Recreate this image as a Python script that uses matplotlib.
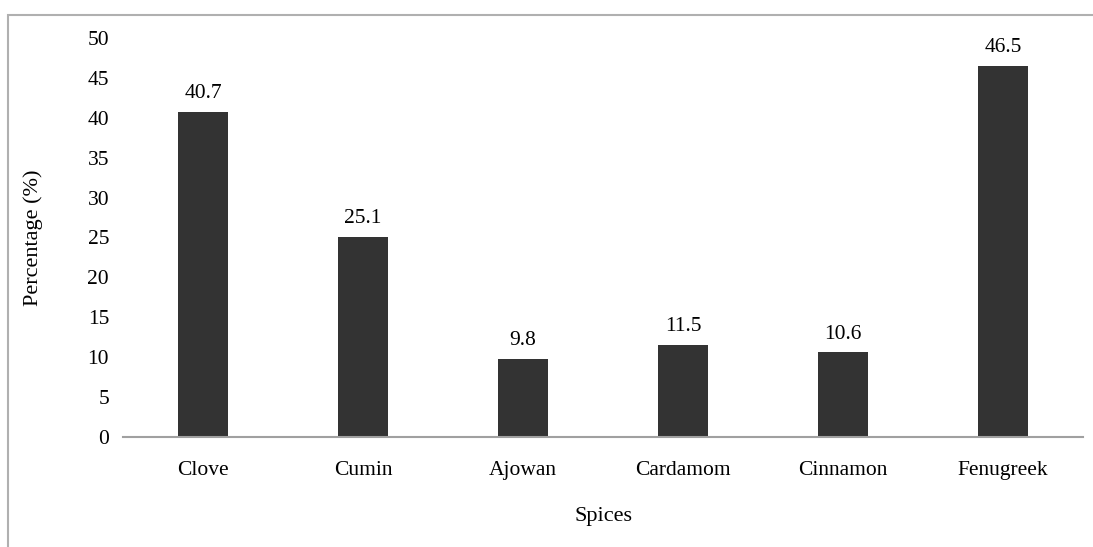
import matplotlib
matplotlib.use("Agg")
import matplotlib.pyplot as plt
from matplotlib.patches import Rectangle

spices = ["Clove", "Cumin", "Ajowan", "Cardamom", "Cinnamon", "Fenugreek"]
percent = [40.7, 25.1, 9.8, 11.5, 10.6, 46.5]
yticks = [0, 5, 10, 15, 20, 25, 30, 35, 40, 45, 50]

plt.rcParams["font.family"] = ["Liberation Serif", "DejaVu Serif"]

fig = plt.figure(figsize=(10.93, 5.47), dpi=100)
# outer chart frame (clipped on right/bottom like the source)
fig.patches.append(Rectangle((8 / 1093, -0.05), 1.2, 1 - 15 / 547 + 0.05,
                             transform=fig.transFigure, fill=False,
                             edgecolor="#b0b0b0", lw=1.5))

ax = fig.add_axes([123 / 1093, 1 - 437 / 547, 960 / 1093, (437 - 38) / 547])
x = range(len(spices))
bars = ax.bar(x, percent, width=0.31, color="#333333")
for b, v in zip(bars, percent):
    ax.text(b.get_x() + b.get_width() / 2, v + 1.1, f"{v:.1f}",
            ha="center", va="bottom", fontsize=15.5)

ax.set_xlim(-0.5, len(spices) - 0.5)
ax.set_ylim(0, 50)
ax.set_yticks(yticks)
ax.set_xticks(list(x))
ax.set_xticklabels(spices)
ax.tick_params(length=0, labelsize=15.5)
ax.tick_params(axis="x", pad=17)
ax.tick_params(axis="y", pad=10)
for s in ["top", "right", "left"]:
    ax.spines[s].set_visible(False)
ax.spines["bottom"].set_color("#a0a0a0")
ax.spines["bottom"].set_linewidth(1.5)
ax.set_xlabel("Spices", fontsize=16, va="center")
ax.set_ylabel("Percentage (%)", fontsize=16, va="center")
ax.xaxis.set_label_coords(0.5, (437 - 516) / 399)
ax.yaxis.set_label_coords((33 - 123) / 960, 0.5)

fig.savefig("out.png", dpi=100)
